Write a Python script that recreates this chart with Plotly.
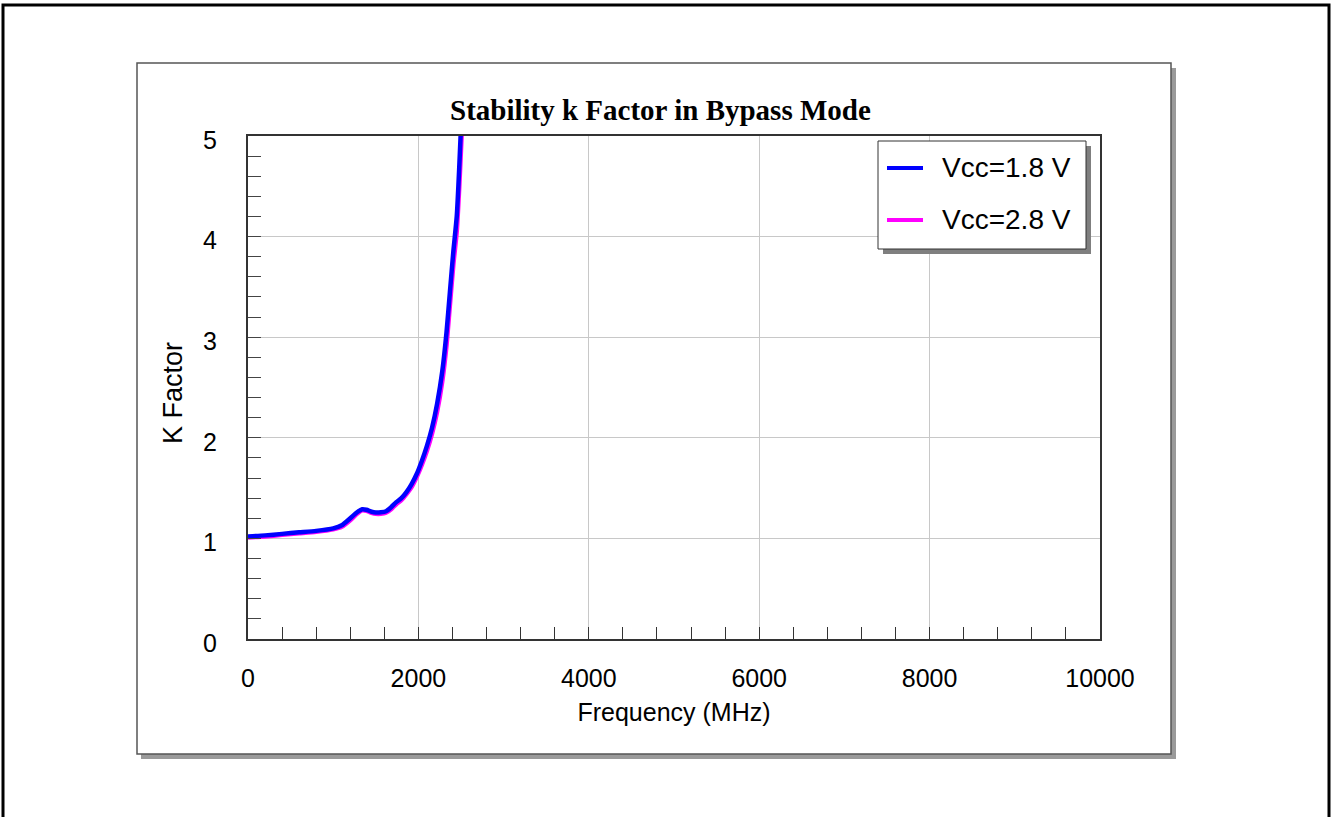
import plotly.graph_objects as go

# Measured stability factor versus frequency
freq_mhz = [0, 200, 400, 600, 800, 1000, 1100, 1200, 1280, 1340, 1390, 1450, 1500,
            1560, 1620, 1680, 1740, 1800, 1860, 1920, 1980, 2040, 2100, 2160, 2220,
            2280, 2330, 2370, 2410, 2450, 2480, 2510, 2540]
k_vcc_18 = [1.02, 1.03, 1.045, 1.06, 1.075, 1.10, 1.13, 1.20, 1.26, 1.29, 1.285, 1.265, 1.258,
            1.26, 1.27, 1.31, 1.36, 1.40, 1.46, 1.54, 1.64, 1.77, 1.92, 2.10, 2.34,
            2.66, 3.05, 3.45, 3.85, 4.20, 4.70, 5.30, 5.90]
k_vcc_28 = [1.01, 1.02, 1.035, 1.05, 1.065, 1.09, 1.115, 1.18, 1.245, 1.28, 1.275, 1.255, 1.245,
            1.245, 1.255, 1.29, 1.34, 1.38, 1.44, 1.51, 1.61, 1.73, 1.87, 2.04, 2.26,
            2.56, 2.92, 3.32, 3.72, 4.05, 4.50, 5.05, 5.60]
series_names = ["Vcc=1.8 V", "Vcc=2.8 V"]
series_colors = ["#0000ff", "#ff00ff"]

x_ticks = [0, 2000, 4000, 6000, 8000, 10000]
y_ticks = [0, 1, 2, 3, 4, 5]

W, H = 1331, 817
L, R, T, B = 248, 231, 136, 178
PW, PH = W - L - R, H - T - B


def px(x):
    return (x - L) / PW


def py(y):
    return (H - B - y) / PH


fig = go.Figure()
fig.add_trace(go.Scatter(x=freq_mhz, y=k_vcc_28, mode="lines", name=series_names[1],
                         line=dict(color=series_colors[1], width=4.5, shape="spline", smoothing=0.6),
                         showlegend=False))
fig.add_trace(go.Scatter(x=freq_mhz, y=k_vcc_18, mode="lines", name=series_names[0],
                         line=dict(color=series_colors[0], width=4.5, shape="spline", smoothing=0.6),
                         showlegend=False))

shapes = [
    # outer page border
    dict(type="rect", xref="paper", yref="paper", x0=px(3), x1=px(1329), y0=py(5), y1=py(860),
         line=dict(color="black", width=3), fillcolor="rgba(0,0,0,0)", layer="below"),
    # chart frame with drop shadow
    dict(type="rect", xref="paper", yref="paper", x0=px(141), x1=px(1176), y0=py(68), y1=py(759),
         line=dict(width=0), fillcolor="#9a9a9a", layer="below"),
    dict(type="rect", xref="paper", yref="paper", x0=px(137), x1=px(1171), y0=py(63), y1=py(754),
         line=dict(color="#555555", width=1.5), fillcolor="white", layer="below"),
    # legend box with drop shadow
    dict(type="rect", xref="paper", yref="paper", x0=px(883), x1=px(1091), y0=py(146), y1=py(254),
         line=dict(width=0), fillcolor="#7f7f7f", layer="above"),
    dict(type="rect", xref="paper", yref="paper", x0=px(878), x1=px(1086), y0=py(141), y1=py(249),
         line=dict(color="#333333", width=1), fillcolor="white", layer="above"),
]
annotations = []
legend_rows = [168, 220]
for name, color, yrow in zip(series_names, series_colors, legend_rows):
    shapes.append(dict(type="line", xref="paper", yref="paper", x0=px(887), x1=px(923),
                       y0=py(yrow), y1=py(yrow), line=dict(color=color, width=4), layer="above"))
    annotations.append(dict(text=name, xref="paper", yref="paper", x=px(940), y=py(yrow - 1),
                            xanchor="left", yanchor="middle", showarrow=False,
                            font=dict(family="Arial, Liberation Sans", size=28, color="black")))

annotations.append(dict(text="<b>Stability k Factor in Bypass Mode</b>", xref="paper", yref="paper",
                        x=px(660), y=py(110), xanchor="center", yanchor="middle", showarrow=False,
                        font=dict(family="Times New Roman, Liberation Serif", size=29, color="black")))

# vertical axis title
annotations.append(dict(text="K Factor", xref="paper", yref="paper", x=px(173), y=py(393),
                        xanchor="center", yanchor="middle", textangle=-90, showarrow=False,
                        font=dict(family="Arial, Liberation Sans", size=27, color="black")))

axis_font = dict(family="Arial, Liberation Sans", size=25, color="black")

fig.update_layout(
    width=W, height=H,
    margin=dict(l=L, r=R, t=T, b=B, autoexpand=False),
    paper_bgcolor="white", plot_bgcolor="rgba(0,0,0,0)",
    showlegend=False,
    shapes=shapes, annotations=annotations,
    font=axis_font,
)
fig.update_xaxes(
    range=[0, 10000], tickvals=x_ticks, ticktext=[str(v) for v in x_ticks],
    ticks="inside", ticklen=12, tickcolor="#333333", tickwidth=1,
    showgrid=True, gridcolor="#c8c8c8", gridwidth=1, zeroline=False,
    showline=True, linecolor="#333333", linewidth=2, mirror=True,
    minor=dict(dtick=400, tick0=0, ticks="inside", ticklen=12, tickcolor="#333333", showgrid=False),
    tickfont=axis_font, ticklabelstandoff=16,
    title=dict(text="Frequency (MHz)", font=axis_font, standoff=12),
)
fig.update_yaxes(
    range=[0, 5], tickvals=y_ticks, ticktext=[str(v) for v in y_ticks],
    ticks="inside", ticklen=13, tickcolor="#444444", tickwidth=1,
    showgrid=True, gridcolor="#c8c8c8", gridwidth=1, zeroline=False,
    showline=True, linecolor="#333333", linewidth=2, mirror=True,
    minor=dict(dtick=0.2, tick0=0, ticks="inside", ticklen=13, tickcolor="#444444", showgrid=False),
    tickfont=axis_font, ticklabelstandoff=24, ticklabelshift=4,
)

fig.write_html("out.html")
